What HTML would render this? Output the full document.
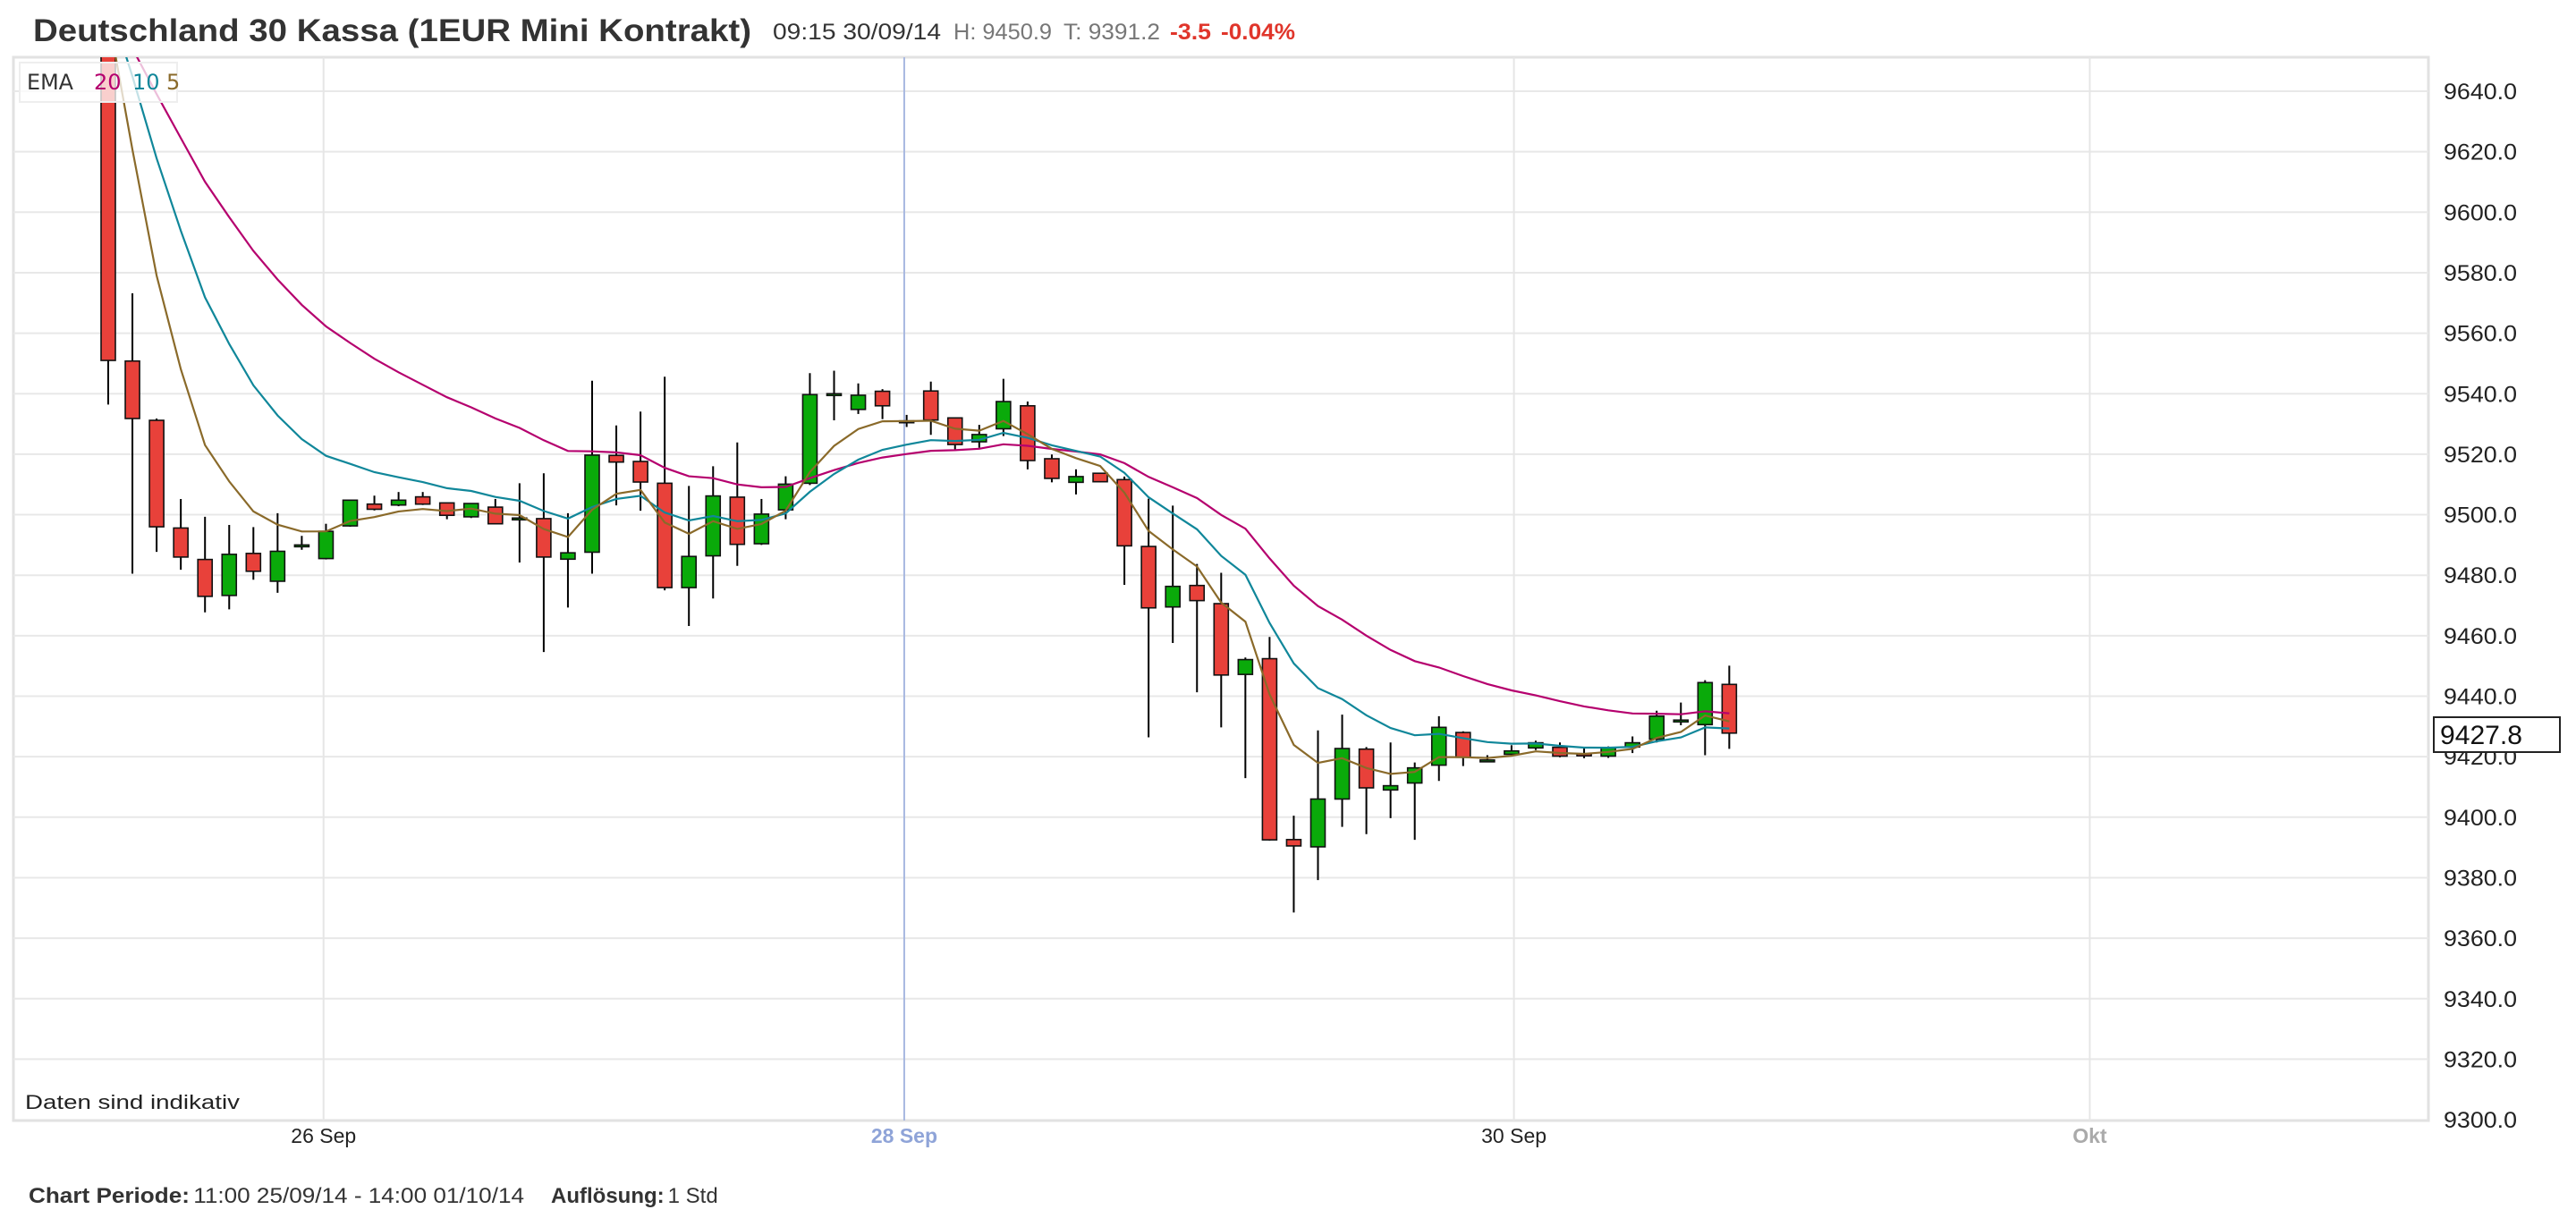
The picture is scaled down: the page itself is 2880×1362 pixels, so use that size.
<!DOCTYPE html>
<html><head><meta charset="utf-8"><style>
html,body{margin:0;padding:0;background:#fff;}
svg{display:block;font-family:"Liberation Sans",Arial,sans-serif;}
</style></head><body>
<svg id="chart" width="2880" height="1362" viewBox="0 0 2880 1362" xmlns="http://www.w3.org/2000/svg">
<defs><clipPath id="plotclip"><rect x="15" y="64" width="2700" height="1189"/></clipPath></defs>
<g>
<text x="37" y="46" font-size="35" font-weight="bold" fill="#333" textLength="803" lengthAdjust="spacingAndGlyphs">Deutschland 30 Kassa (1EUR Mini Kontrakt)</text>
<text x="864" y="44" font-size="25" fill="#333" textLength="188" lengthAdjust="spacingAndGlyphs">09:15 30/09/14</text>
<text x="1066" y="44" font-size="25" fill="#777" textLength="110" lengthAdjust="spacingAndGlyphs">H: 9450.9</text>
<text x="1189" y="44" font-size="25" fill="#777" textLength="108" lengthAdjust="spacingAndGlyphs">T: 9391.2</text>
<text x="1308" y="44" font-size="25" font-weight="bold" fill="#e0352b" textLength="46" lengthAdjust="spacingAndGlyphs">-3.5</text>
<text x="1365" y="44" font-size="25" font-weight="bold" fill="#e0352b" textLength="83" lengthAdjust="spacingAndGlyphs">-0.04%</text>
</g>
<rect x="15" y="64" width="2700" height="1189" fill="#fff" stroke="#e2e2e2" stroke-width="3"/>
<g id="grid"></g>
<g id="yaxis"></g>
<g id="xaxis"></g>
<g clip-path="url(#plotclip)"><g id="candles"></g><g id="emas"></g></g>
<g>
<rect x="22" y="70" width="176" height="44" fill="#fff" fill-opacity="0.75" stroke="#eee" stroke-width="2"/>
<text x="30" y="100" font-size="24" fill="#333" font-family="DejaVu Sans, sans-serif" textLength="52" lengthAdjust="spacingAndGlyphs">EMA</text>
<text x="105" y="100" font-size="24" fill="#b5006e" font-family="DejaVu Sans, sans-serif">20</text>
<text x="148" y="100" font-size="24" fill="#10879a" font-family="DejaVu Sans, sans-serif">10</text>
<text x="186" y="100" font-size="24" fill="#8a6a2a" font-family="DejaVu Sans, sans-serif">5</text>
</g>
<text x="28" y="1240" font-size="22" fill="#222" textLength="240" lengthAdjust="spacingAndGlyphs">Daten sind indikativ</text>
<g>
<rect x="2721" y="802" width="141" height="39" fill="#fff" stroke="#222" stroke-width="2"/>
<text x="2728" y="832" font-size="30" fill="#111" textLength="92" lengthAdjust="spacingAndGlyphs">9427.8</text>
</g>
<g>
<text x="32" y="1345" font-size="24" fill="#333" textLength="554" lengthAdjust="spacingAndGlyphs"><tspan font-weight="bold">Chart Periode:</tspan><tspan dx="4">11:00 25/09/14 - 14:00 01/10/14</tspan></text>
<text x="616" y="1345" font-size="24" fill="#333"><tspan font-weight="bold">Auflösung:</tspan><tspan dx="4">1 Std</tspan></text>
</g>
</svg>
<script>
const opens  = [9655,9550.8,9531.2,9495.6,9485.2,9473.3,9487.2,9478.0,9490,9485.5,9496.3,9503.5,9503.2,9505.9,9503.9,9499.3,9502.5,9498.9,9498.7,9485.3,9487.6,9519.6,9517.6,9510.4,9475.9,9486.4,9505.8,9490.4,9501.6,9510.4,9540,9534.8,9540.8,9531,9540.9,9532,9524.1,9528.4,9536.0,9518.5,9510.7,9513.7,9511.6,9489.5,9469.5,9476.6,9470.6,9447.2,9452.4,9392.6,9390.2,9406.0,9422.5,9409.0,9411.3,9417.2,9428,9418.9,9420.8,9422.9,9423.1,9421,9420.2,9423.2,9425.8,9432.1,9430.6,9443.9];
const highs  = [9662,9573.2,9531.8,9505.2,9499.3,9496.6,9495.9,9500.5,9493,9497,9504.8,9506.3,9507.5,9507.5,9503.9,9503.7,9505.2,9510.4,9513.7,9500.5,9544.3,9529.5,9534.1,9545.6,9509.5,9516.0,9523.9,9505.2,9512.7,9546.8,9547.6,9543.4,9541.5,9533,9544,9532,9529.7,9544.9,9537.4,9519.9,9515,9513.7,9512.6,9505.3,9503,9483.7,9480.8,9452.8,9459.6,9400.5,9428.7,9433.9,9423.2,9424.7,9418.1,9433.4,9428.4,9420.5,9423.8,9425.3,9424.7,9423.3,9423.4,9426.7,9435.2,9437.9,9445.3,9450.1];
const lows   = [9536.4,9480.5,9487.7,9481.8,9467.7,9468.7,9478.5,9474.2,9488.4,9485.2,9496,9501.4,9502.8,9503.2,9498.5,9498.9,9497,9484.2,9454.6,9469.3,9480.5,9503.1,9501.3,9475.0,9463.2,9472.3,9483.1,9490,9498.5,9509.8,9531.2,9533.3,9531.6,9529,9526.4,9521.2,9522.1,9526,9515,9510.7,9506.7,9510.7,9476.8,9426.4,9457.6,9441.3,9429.7,9412.9,9392.2,9368.5,9379.2,9396.8,9394.4,9399.7,9392.5,9412.0,9416.9,9418.2,9420.3,9422.2,9419.8,9419.5,9419.6,9421.2,9424.7,9430.4,9420.5,9422.6];
const closes = [9551,9531.8,9496.0,9486.0,9473.0,9486.9,9481.3,9487.9,9490,9494.5,9504.8,9501.8,9504.8,9503.5,9499.8,9503.7,9497.0,9498.9,9486.0,9487.4,9519.7,9517.4,9510.8,9475.9,9486.2,9506.2,9490.2,9500.2,9510.1,9539.7,9540,9539.5,9536.0,9531,9531.3,9523.2,9526.5,9537.4,9517.9,9512,9512.6,9510.9,9489.7,9469.2,9476.3,9471.6,9447.0,9452.1,9392.5,9390.5,9406.0,9422.7,9409.7,9410.4,9416.3,9429.7,9419.8,9418.9,9421.9,9424.6,9420.2,9420.3,9422.9,9424.6,9433.4,9432.1,9444.5,9427.8];
const emaPeriods = [20,10,5];
const emaSeeds = [9667,9670,9665];
const yTicks = [9640,9620,9600,9580,9560,9540,9520,9500,9480,9460,9440,9420,9400,9380,9360,9340,9320,9300];
const xLabels = ["26 Sep","28 Sep","30 Sep","Okt"];
const xLabelIndex = [8.9,32.9,58.1,81.9];

const NS="http://www.w3.org/2000/svg";
function y(p){return 102+(9640-p)*67.65/20;}
function x(i){return 121+27.05*i;}
function mk(tag,attrs,parent){const e=document.createElementNS(NS,tag);for(const k in attrs)e.setAttribute(k,attrs[k]);parent.appendChild(e);return e;}
const grid=document.getElementById('grid'),yax=document.getElementById('yaxis'),xax=document.getElementById('xaxis');
yTicks.forEach(v=>{
  if(v>9300){const l=mk('line',{x1:15,x2:2715,y1:y(v),y2:y(v),stroke:'#e8e8e8','stroke-width':2},grid);
  
  }
  const t=mk('text',{x:2732,y:y(v)+9,'font-size':25,fill:'#222',textLength:82,lengthAdjust:'spacingAndGlyphs'},yax);
  
  
  t.textContent=v.toFixed(1);
});
const xColors=['#222','#8fa4d8','#222','#aaa'],xBold=['normal','bold','normal','bold'];
xLabels.forEach((s,k)=>{
  const xx=x(xLabelIndex[k]);
  const l=mk('line',{x1:xx,x2:xx,y1:64,y2:1253,stroke:k==1?'#a8b8e0':'#e6e6e6','stroke-width':2},grid);
  
  
  const t=mk('text',{x:xx,y:1278,'font-size':23,fill:xColors[k],'font-weight':xBold[k],'text-anchor':'middle'},xax);
  
  
  t.textContent=s;
});
const cg=document.getElementById('candles');
closes.forEach((c,i)=>{
  const o=opens[i],xx=x(i);
  const w=mk('line',{x1:xx,x2:xx,y1:y(highs[i]),y2:y(lows[i]),stroke:'#000','stroke-width':2},cg);
  
  
  const top=y(Math.max(o,c)),bot=y(Math.min(o,c));
  const b=mk('rect',{x:xx-8,y:top,width:16,height:Math.max(bot-top,2),fill:c>=o?'#0aaa0a':'#e8413a',stroke:'#111','stroke-width':1.6},cg);
  
  
});
const eg=document.getElementById('emas'),emaColors=['#b5006e','#10879a','#8a6a2a'];
emaPeriods.forEach((n,k)=>{
  const a=2/(n+1);let e=emaSeeds[k];const pts=[];
  closes.forEach((c,i)=>{if(i>0)e=e*(1-a)+c*a;pts.push(x(i).toFixed(1)+','+y(e).toFixed(1));});
  const pl=mk('polyline',{points:pts.join(' '),fill:'none',stroke:emaColors[k],'stroke-width':2.2},eg);
  
  
});
</script>
</body></html>
